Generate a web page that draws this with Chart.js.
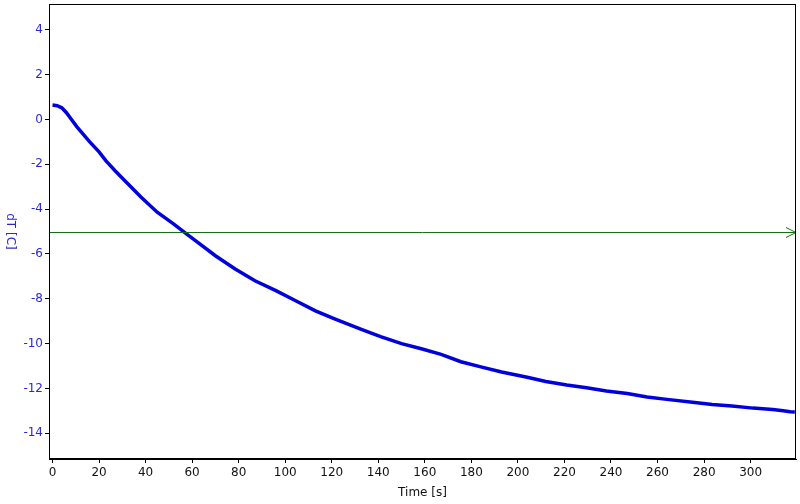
<!DOCTYPE html>
<html>
<head>
<meta charset="utf-8">
<script src="https://cdn.jsdelivr.net/npm/chart.js@4/dist/chart.umd.min.js"></script>
<style>
  html, body { margin: 0; padding: 0; background: #ffffff; }
  #wrap { width: 800px; height: 504px; }
</style>
</head>
<body>
<div id="wrap"><canvas id="graph1" width="800" height="504"></canvas></div>
<script>
// values
const times = [0, 2, 4, 6, 8, 10.5, 16, 20, 23, 27, 31, 38, 45, 52, 57, 62, 70, 78.5, 87, 96, 104.5, 113, 121.5, 133,
    141, 150, 158.5, 167, 175.5, 184.5, 193, 204, 212, 221, 229.5, 238, 247, 255.5, 264, 276, 283.5, 292,
    301, 309.5, 314, 317, 319];
const dT = [0.64, 0.61, 0.52, 0.30, 0.02, -0.33, -1.0, -1.45, -1.85, -2.3, -2.72, -3.46, -4.14, -4.66, -5.06,
    -5.45, -6.08, -6.67, -7.2, -7.64, -8.09, -8.54, -8.91, -9.38, -9.69, -10.0, -10.23, -10.48, -10.81, -11.05,
    -11.27, -11.5, -11.69, -11.85, -11.97, -12.12, -12.23, -12.38, -12.49, -12.63, -12.72, -12.79, -12.88,
    -12.94, -13.0, -13.04, -13.05];
const xTicks = [0, 20, 40, 60, 80, 100, 120, 140, 160, 180, 200, 220, 240, 260, 280, 300];
const yTicks = [-14, -12, -10, -8, -6, -4, -2, 0, 2, 4];
const thresholdLevel = -5;

const blueTxt = '#2a2acc';

const pts = [];
for (let i = 0; i < times.length; i++) {
    pts.push({x: times[i], y: dT[i]});
}

// frame + green threshold line with arrow + rotated y title
const extras = {
    id: 'extras',
    afterDatasetsDraw(chart) {
        const ctx = chart.ctx;
        const a = chart.chartArea;
        const yPix = Math.round(chart.scales.y.getPixelForValue(thresholdLevel)) + 0.5;
        ctx.save();
        ctx.strokeStyle = '#157015';
        ctx.lineWidth = 1;
        ctx.beginPath();
        ctx.moveTo(a.left, yPix);
        ctx.lineTo(a.right, yPix);
        ctx.moveTo(a.right - 10, yPix - 5);
        ctx.lineTo(a.right, yPix);
        ctx.lineTo(a.right - 10, yPix + 5);
        ctx.stroke();

        ctx.strokeStyle = '#000000';
        ctx.strokeRect(a.left + 0.5, a.top + 0.5, a.right - a.left - 1, a.bottom - a.top - 1);

        ctx.translate(10, (a.top + a.bottom) / 2);
        ctx.rotate(Math.PI / 2);
        ctx.fillStyle = blueTxt;
        ctx.font = '12px "DejaVu Sans"';
        ctx.textAlign = 'center';
        ctx.textBaseline = 'middle';
        ctx.fillText('dT [C]', 0, 0);
        ctx.restore();
    }
};

const ctx = document.getElementById('graph1');
new Chart(ctx, {
    type: 'line',
    data: {
        datasets: [
            {
                data: pts,
                borderColor: '#0000dd',
                backgroundColor: '#0000dd',
                borderWidth: 3.5,
                pointRadius: 0,
                tension: 0,
                fill: false
            }
        ]
    },
    options: {
        responsive: false,
        animation: false,
        layout: {padding: {left: 0, right: 4, top: 4, bottom: 0}},
        plugins: {legend: {display: false}, tooltip: {enabled: false}},
        scales: {
            x: {
                type: 'linear',
                min: -1.5,
                max: 319.5,
                afterBuildTicks: (s) => { s.ticks = xTicks.map(v => ({value: v})); },
                afterFit: (s) => { s.height = 45; s.paddingLeft = 0; s.paddingRight = 0; },
                grid: {drawOnChartArea: false, drawTicks: true, tickLength: 4, color: '#000000'},
                border: {display: true, color: '#000000'},
                ticks: {color: '#111111', padding: 3, maxRotation: 0, font: {family: 'DejaVu Sans', size: 12}},
                title: {display: true, text: 'Time [s]', color: '#111111', padding: {top: 0, bottom: 4},
                    font: {family: 'DejaVu Sans', size: 12}}
            },
            y: {
                type: 'linear',
                min: -15.15,
                max: 5.15,
                afterBuildTicks: (s) => { s.ticks = yTicks.map(v => ({value: v})); },
                afterFit: (s) => { s.width = 49; s.paddingTop = 0; s.paddingBottom = 0; },
                grid: {drawOnChartArea: false, drawTicks: true, tickLength: 4, color: '#000000'},
                border: {display: true, color: '#000000'},
                ticks: {color: blueTxt, padding: 2, font: {family: 'DejaVu Sans', size: 12}}
            }
        }
    },
    plugins: [extras]
});
</script>
</body>
</html>
